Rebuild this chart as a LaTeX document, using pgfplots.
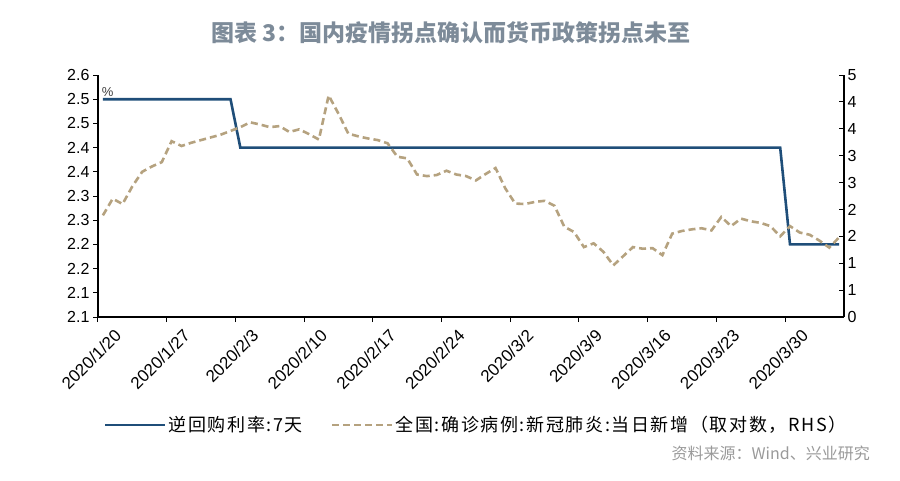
\documentclass[border=0pt]{standalone}
\usepackage{pgfplots}
\pgfplotsset{compat=1.18}
\usepackage{fontspec}
\setmainfont{Liberation Sans}
\newfontfamily\cjk{Noto Sans CJK SC}
\newfontfamily\cjkleg{Noto Sans CJK SC}[LetterSpace=9]
\definecolor{repoblue}{HTML}{1F4E79}
\definecolor{casetan}{HTML}{B5A27F}
\definecolor{titlegray}{HTML}{7D8B99}
\definecolor{srcgray}{HTML}{9A9A9A}
\pgfplotstableread{
day val
0 1.89
1 2.20
2 2.10
3 2.43
4 2.70
5 2.80
6 2.88
7 3.27
8 3.18
9 3.24
10 3.29
11 3.34
12 3.39
13 3.46
14 3.53
15 3.62
16 3.58
17 3.53
18 3.55
19 3.44
20 3.49
21 3.40
22 3.30
23 4.12
24 3.78
25 3.41
26 3.36
27 3.32
28 3.29
29 3.23
30 2.98
31 2.95
32 2.65
33 2.62
34 2.64
35 2.72
36 2.65
37 2.62
38 2.54
39 2.66
40 2.77
41 2.39
42 2.11
43 2.10
44 2.14
45 2.16
46 2.07
47 1.68
48 1.58
49 1.30
50 1.37
51 1.21
52 0.96
53 1.13
54 1.30
55 1.27
56 1.28
57 1.15
58 1.55
59 1.60
60 1.63
61 1.65
62 1.61
63 1.86
64 1.69
65 1.83
66 1.78
67 1.75
68 1.69
69 1.50
70 1.69
71 1.57
72 1.53
73 1.42
74 1.29
75 1.48
}\casedata
\pgfplotstableread{
day rate
0 2.5
13 2.5
14 2.4
69 2.4
70 2.2
75 2.2
}\repodata
\begin{document}
\begin{tikzpicture}
\useasboundingbox (0pt,0pt) rectangle (900pt,480pt);
\node[font=\cjk\bfseries\fontsize{23}{26}\selectfont, text=titlegray] at (451pt,447pt) {图表 3：国内疫情拐点确认而货币政策拐点未至};
\node[font=\cjk\fontsize{16}{19}\selectfont, text=srcgray, anchor=east, inner sep=0pt] at (870pt,27pt) {资料来源：Wind、兴业研究};
\begin{axis}[
  at={(98pt,163pt)}, anchor=south west,
  scale only axis, width=746pt, height=242pt,
  xmin=-0.5, xmax=75.5, ymin=2.05, ymax=2.55,
  axis x line*=bottom, axis y line*=left,
  axis line style={black, line width=1.2pt, -},
  tick align=outside, major tick length=5pt,
  tick style={black, line width=1pt},
  xtick={-0.5,6.5,13.5,20.5,27.5,34.5,41.5,48.5,55.5,62.5,69.5},
  xticklabels={2020/1/20,2020/1/27,2020/2/3,2020/2/10,2020/2/17,2020/2/24,2020/3/2,2020/3/9,2020/3/16,2020/3/23,2020/3/30},
  xticklabel style={rotate=45, anchor=north east, xshift=10pt, yshift=-12pt, font=\fontsize{17}{19}\selectfont},
  ytick={2.05,2.1,2.15,2.2,2.25,2.3,2.35,2.4,2.45,2.5,2.55},
  yticklabels={2.1,2.1,2.2,2.2,2.3,2.3,2.4,2.4,2.5,2.5,2.6},
  yticklabel style={font=\fontsize{16}{18}\selectfont},
  /pgf/number format/assume math mode=true,
  clip=false,
]
\addplot[repoblue, line width=2.6pt, line join=miter] table[x=day, y=rate] {\repodata};
\node[anchor=west, inner sep=0pt, font=\fontsize{13}{15}\selectfont, text=black!75] at (rel axis cs:0.005,0.93) {\%};
\end{axis}
\begin{axis}[
  at={(98pt,163pt)}, anchor=south west,
  scale only axis, width=746pt, height=242pt,
  xmin=-0.5, xmax=75.5, ymin=0, ymax=4.5,
  axis x line=none, axis y line*=right,
  axis line style={black, line width=1.2pt, -},
  tick align=inside, major tick length=5pt,
  tick style={black, line width=1pt},
  ytick={0,0.5,1,1.5,2,2.5,3,3.5,4,4.5},
  yticklabels={0,1,1,2,2,3,3,4,4,5},
  yticklabel style={font=\fontsize{16}{18}\selectfont},
  /pgf/number format/assume math mode=true,
  legend columns=2,
  legend style={draw=none, fill=none, at={(0.507,-0.446)}, anchor=center,
    font=\cjkleg\fontsize{18}{21}\selectfont,
    /tikz/every even column/.append style={column sep=26pt}},
  legend cell align=left,
  legend image code/.code={\draw[#1] (0pt,0pt) -- (60pt,0pt);},
]
\addlegendimage{repoblue, line width=2.6pt}
\addlegendentry{逆回购利率:7天}
\addplot[casetan, line width=2.6pt, dash pattern=on 7pt off 4pt] table[x=day, y=val] {\casedata};
\addlegendentry{全国:确诊病例:新冠肺炎:当日新增（取对数，RHS）}
\end{axis}
\end{tikzpicture}
\end{document}
